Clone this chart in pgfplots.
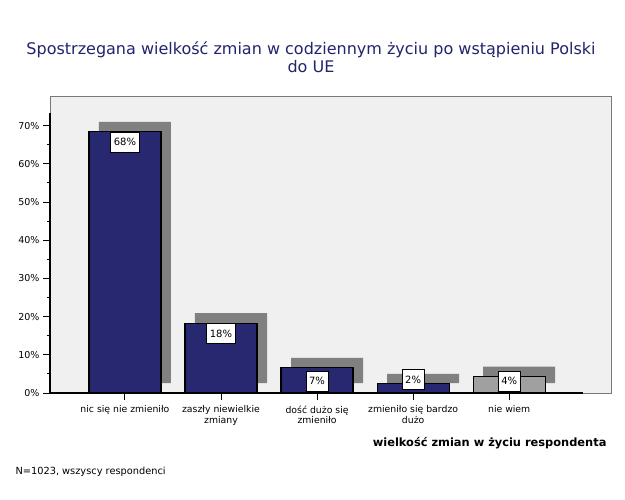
\documentclass[border=0pt]{standalone}
\usepackage{fontspec}
\setmainfont{DejaVu Sans}
\usepackage{pgfplots}
\pgfplotsset{compat=1.18}
\definecolor{navy}{RGB}{40,40,112}
\definecolor{shadowgray}{RGB}{128,128,128}
\definecolor{bggray}{RGB}{240,240,240}
\definecolor{framegray}{RGB}{120,120,120}
\definecolor{titleblue}{RGB}{35,35,110}
\definecolor{lightbar}{RGB}{160,160,160}
\begin{document}
\begin{tikzpicture}[x=1pt,y=1pt]
\path[fill=white] (0,0) rectangle (625,-500);
\pgfplotsset{common/.style={at={(50pt,-97pt)}, anchor=north west,
  width=562pt, height=296pt, scale only axis,
  xmin=-0.78, xmax=5.07, ymin=0, ymax=77.5, clip=false}}
% background axis with shadows
\begin{axis}[common,
  axis background/.style={fill=bggray},
  axis line style={framegray, line width=1pt},
  ticks=none,
  ybar stacked, bar width=0.75, bar shift=10pt]
\addplot[draw=none, fill=none] coordinates {(0,2.6) (1,2.6) (2,2.6) (3,2.6) (4,2.6)};
\addplot[fill=shadowgray, draw=none] coordinates {(0,68.4) (1,18.3) (2,6.6) (3,2.4) (4,4.3)};
\end{axis}
% main axis
\begin{axis}[common,
  axis line style={draw=none},
  /pgf/number format/assume math mode=true,
  ybar, bar width=0.75, bar shift=0pt,
  ytick={0,10,...,70},
  yticklabel={\pgfmathprintnumber{\tick}\%},
  minor y tick num=1,
  tick align=outside,
  ytick pos=left, xtick pos=bottom,
  major tick length=7pt, minor tick length=3pt,
  tick style={black, line width=1pt},
  xtick={0,1,2,3,4},
  xticklabels={nic się nie zmieniło, {zaszły niewielkie\\zmiany}, {dość dużo się\\zmieniło}, {zmieniło się bardzo\\dużo}, nie wiem},
  xticklabel style={align=center, font=\fontsize{9.3}{10.5}\selectfont, text=black, yshift=-2pt},
  yticklabel style={font=\fontsize{9.5}{12}\selectfont, text=black},
  nodes near coords={\pgfmathprintnumber[fixed,precision=0]{\pgfplotspointmeta}\%},
  every node near coord/.style={anchor=north, fill=white, draw=black, line width=0.8pt,
     font=\fontsize{10}{12}\selectfont, text=black, inner xsep=3pt, minimum height=20pt}]
\addplot[fill=navy, draw=black, line width=1.2pt] coordinates {(0,68.4) (1,18.3)};
\addplot[fill=navy, draw=black, line width=1.2pt,
  every node near coord/.append style={yshift=-3pt}] coordinates {(2,6.6)};
\addplot[fill=navy, draw=black, line width=1.2pt,
  every node near coord/.append style={anchor=south, yshift=-6pt}] coordinates {(3,2.4)};
\addplot[fill=lightbar, draw=black, line width=1.2pt,
  every node near coord/.append style={anchor=south, yshift=-15pt}] coordinates {(4,4.3)};
\draw[black, line width=1.2pt] (axis cs:-0.78,0) -- (axis cs:4.77,0);
\draw[black, line width=1.2pt] (axis cs:-0.78,0) -- (axis cs:-0.78,73.3);
\end{axis}
\node[font=\fontsize{16}{18}\selectfont, text=titleblue, align=center] at (311,-57) {Spostrzegana wielkość zmian w codziennym życiu po wstąpieniu Polski\\do UE};
\node[anchor=east, font=\bfseries\fontsize{11.4}{13}\selectfont] at (610,-443) {wielkość zmian w życiu respondenta};
\node[anchor=west, font=\fontsize{9.8}{12}\selectfont] at (12,-472) {N=1023, wszyscy respondenci};
\end{tikzpicture}
\end{document}
